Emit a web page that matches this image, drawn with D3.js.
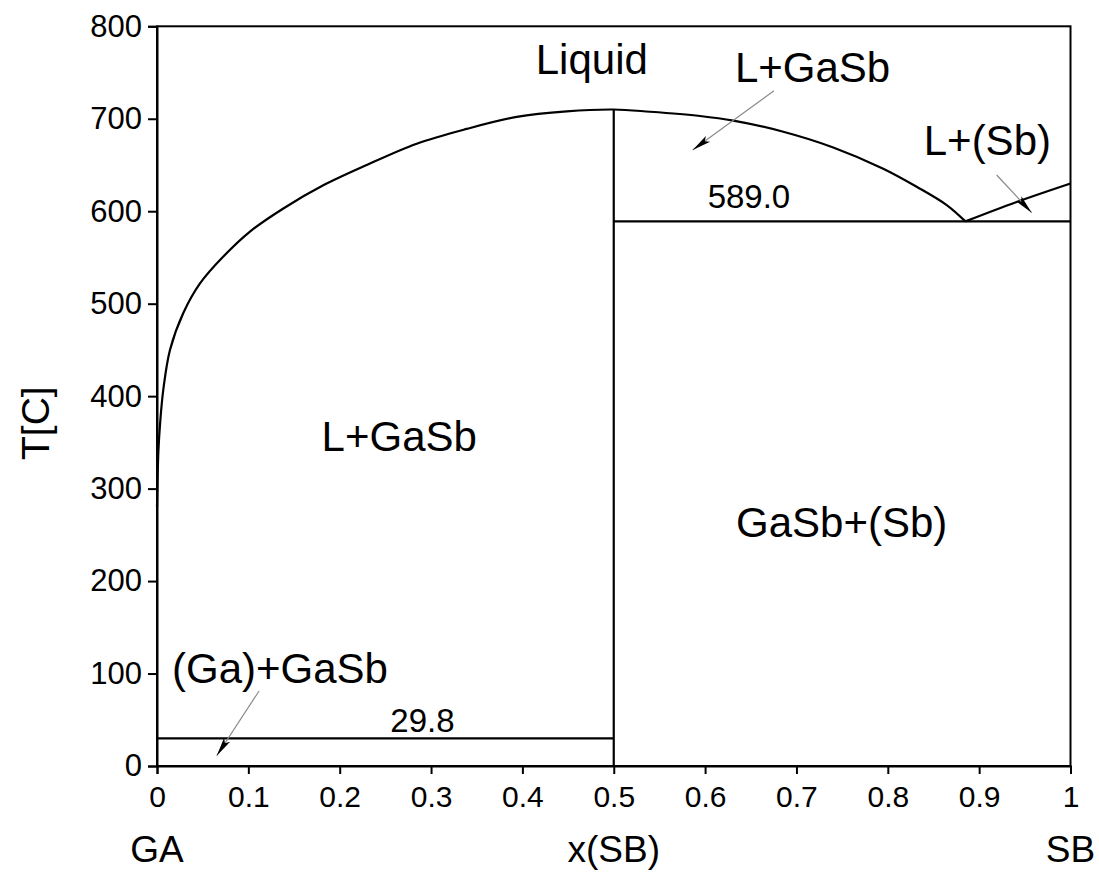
<!DOCTYPE html>
<html>
<head>
<meta charset="utf-8">
<script src="https://cdn.jsdelivr.net/npm/d3@7"></script>
<style>
  html, body { margin: 0; padding: 0; background: #fff; }
  svg { display: block; font-family: "Liberation Sans", Arial, sans-serif; }
</style>
</head>
<body>
<div id="chart"></div>
<script>
const xTicks = [0, 0.1, 0.2, 0.3, 0.4, 0.5, 0.6, 0.7, 0.8, 0.9, 1];
const xTickLabels = ["0", "0.1", "0.2", "0.3", "0.4", "0.5", "0.6", "0.7", "0.8", "0.9", "1"];
const yTicks = [0, 100, 200, 300, 400, 500, 600, 700, 800];

// GaSb liquidus, Ga side up to the congruent melting point and down to the eutectic
const gasbLiquidusX = [0, 0.0015, 0.0035, 0.0069, 0.0142, 0.0288, 0.0471, 0.0726, 0.1018, 0.1383, 0.182, 0.2296, 0.2843, 0.339, 0.3938, 0.4485, 0.5, 0.5397, 0.5944, 0.6309, 0.6856, 0.7403, 0.795, 0.8316, 0.8645, 0.885];
const gasbLiquidusT = [280, 340, 372, 407, 450, 490, 522, 551, 578, 603, 628, 650, 673, 689, 702, 708, 710, 707.6, 703, 698, 686, 669, 646, 626.5, 606.7, 589];

// (Sb) liquidus
const sbLiquidusX = [0.885, 0.941, 1];
const sbLiquidusT = [589, 610, 630];

// invariant lines
const gaEutecticT = 29.8;
const sbEutecticT = 589.0;
const gasbX = 0.5;
const gasbMeltT = 710;

const regionNames = ["Liquid", "L+GaSb", "L+(Sb)", "L+GaSb", "GaSb+(Sb)", "(Ga)+GaSb"];
const regionX = [0.476, 0.7176, 0.909, 0.2652, 0.7495, 0.1346];
const regionT = [748.4, 740, 660.8, 341, 248, 89.4];

const invariantLabels = ["589.0", "29.8"];
const invariantLabelX = [0.648, 0.2906];
const invariantLabelT = [603, 37];

const arrowFromX = [0.6754, 0.9192, 0.1117];
const arrowFromT = [730.4, 639.2, 81.1];
const arrowToX = [0.5864, 0.9575, 0.0654];
const arrowToT = [666.2, 598.4, 11.1];

class PhaseDiagram {
  constructor({ el }) {
    this.el = el;
    this.width = 1099;
    this.height = 872;
    this.marginTop = 26.3;
    this.marginRight = 28.5;
    this.marginBottom = 106;
    this.marginLeft = 157;
    this.init();
  }

  init() {
    this.x = d3.scaleLinear().domain([0, 1]).range([this.marginLeft, this.width - this.marginRight]);
    this.y = d3.scaleLinear().domain([0, 800]).range([this.height - this.marginBottom, this.marginTop]);

    this.svg = d3.select(this.el).append("svg").attr("width", this.width).attr("height", this.height).attr("viewBox", [0, 0, this.width, this.height]);

    this.svg
      .append("defs")
      .append("marker")
      .attr("id", "arrowhead")
      .attr("markerUnits", "userSpaceOnUse")
      .attr("viewBox", "-20 -5 22 10")
      .attr("refX", 0)
      .attr("refY", 0)
      .attr("markerWidth", 22)
      .attr("markerHeight", 10)
      .attr("orient", "auto")
      .append("path")
      .attr("d", "M0,0 L-19,-3.6 L-15,0 L-19,3.6 Z")
      .attr("fill", "#000");

    this.render();
  }

  render() {
    this.renderAxes();
    this.renderLines();
    this.renderArrows();
    this.renderLabels();
  }

  renderAxes() {
    const x = this.x, y = this.y;

    this.svg
      .append("rect")
      .attr("x", x(0))
      .attr("y", y(800))
      .attr("width", x(1) - x(0))
      .attr("height", y(0) - y(800))
      .attr("fill", "none")
      .attr("stroke", "#000")
      .attr("stroke-width", 2);

    this.svg
      .append("g")
      .attr("transform", `translate(0,${y(0)})`)
      .call(d3.axisBottom(x).tickValues(xTicks).tickSize(8).tickPadding(12).tickFormat((d, i) => xTickLabels[i]))
      .call((g) => g.select(".domain").attr("stroke-width", 2))
      .call((g) => g.selectAll(".tick line").attr("stroke-width", 2))
      .call((g) => g.selectAll(".tick text").attr("font-size", 30).attr("font-family", null).attr("fill", "#000"));

    this.svg
      .append("g")
      .attr("transform", `translate(${x(0)},0)`)
      .call(d3.axisLeft(y).tickValues(yTicks).tickSize(9).tickPadding(6).tickFormat((d) => d))
      .call((g) => g.select(".domain").attr("stroke-width", 2))
      .call((g) => g.selectAll(".tick line").attr("stroke-width", 2))
      .call((g) => g.selectAll(".tick text").attr("font-size", 31).attr("font-family", null).attr("fill", "#000"));

    const titles = this.svg.append("g").attr("font-size", 37).attr("text-anchor", "middle").attr("fill", "#000");
    titles.append("text").attr("x", x(0)).attr("y", 862).text("GA");
    titles.append("text").attr("x", x(0.5)).attr("y", 862).text("x(SB)");
    titles.append("text").attr("x", x(1)).attr("y", 862).text("SB");
    titles
      .append("text")
      .attr("transform", `translate(49,${y(400) + 27})rotate(-90)`)
      .attr("font-size", 39)
      .text("T[C]");
  }

  renderLines() {
    const x = this.x, y = this.y;
    const line = d3
      .line()
      .x((d) => x(d[0]))
      .y((d) => y(d[1]))
      .curve(d3.curveCatmullRom.alpha(0.5));

    const g = this.svg.append("g").attr("fill", "none").attr("stroke", "#000").attr("stroke-width", 2.2);

    g.append("path").attr("d", line(gasbLiquidusX.map((d, i) => [d, gasbLiquidusT[i]])));
    g.append("path").attr("d", line(sbLiquidusX.map((d, i) => [d, sbLiquidusT[i]])));

    g.append("line").attr("x1", x(0)).attr("x2", x(gasbX)).attr("y1", y(gaEutecticT)).attr("y2", y(gaEutecticT));
    g.append("line").attr("x1", x(gasbX)).attr("x2", x(1)).attr("y1", y(sbEutecticT)).attr("y2", y(sbEutecticT));
    g.append("line").attr("x1", x(gasbX)).attr("x2", x(gasbX)).attr("y1", y(0)).attr("y2", y(gasbMeltT));
  }

  renderArrows() {
    const x = this.x, y = this.y;
    this.svg
      .append("g")
      .selectAll("line")
      .data(arrowFromX)
      .join("line")
      .attr("x1", (d) => x(d))
      .attr("y1", (_, i) => y(arrowFromT[i]))
      .attr("x2", (_, i) => x(arrowToX[i]))
      .attr("y2", (_, i) => y(arrowToT[i]))
      .attr("stroke", "#8a8a8a")
      .attr("stroke-width", 1.2)
      .attr("marker-end", "url(#arrowhead)");
  }

  renderLabels() {
    const x = this.x, y = this.y;
    this.svg
      .append("g")
      .attr("font-size", 42)
      .attr("text-anchor", "middle")
      .selectAll("text")
      .data(regionNames)
      .join("text")
      .attr("x", (_, i) => x(regionX[i]))
      .attr("y", (_, i) => y(regionT[i]))
      .text((d) => d);

    this.svg
      .append("g")
      .attr("font-size", 33)
      .attr("text-anchor", "middle")
      .selectAll("text")
      .data(invariantLabels)
      .join("text")
      .attr("x", (_, i) => x(invariantLabelX[i]))
      .attr("y", (_, i) => y(invariantLabelT[i]))
      .text((d) => d);
  }
}

const chart = new PhaseDiagram({ el: document.getElementById("chart") });
</script>
</body>
</html>
